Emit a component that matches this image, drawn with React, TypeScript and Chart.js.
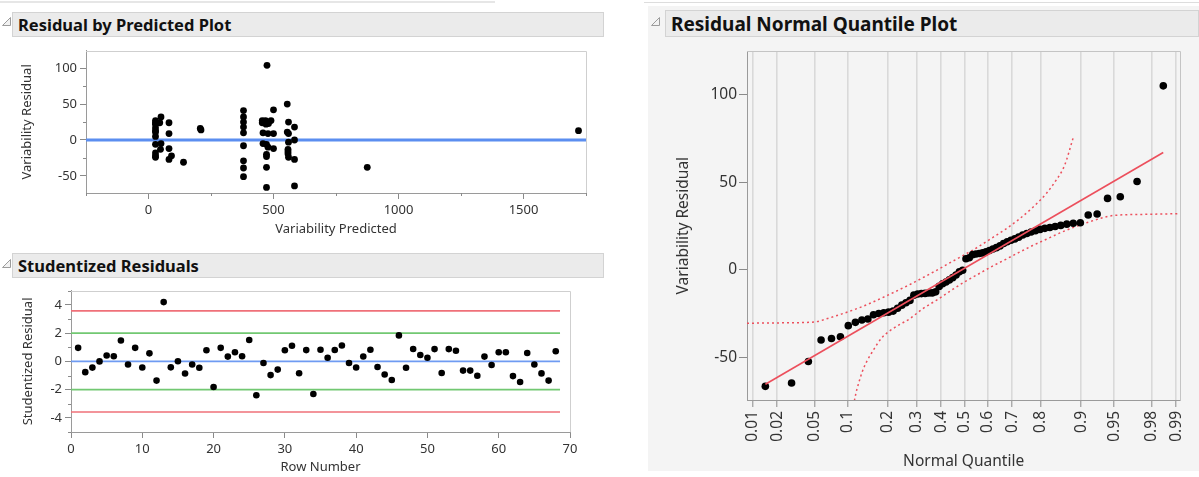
import React, { useEffect, useRef } from 'react';
import { Chart, registerables } from 'chart.js';

Chart.register(...registerables);

const FONT = '"Noto Sans", "Segoe UI", sans-serif';

// ---------------- Residual by Predicted Plot ----------------
const predicted = [
  28, 28, 28, 28, 28, 28, 28, 28, 28, 28, 28, 50, 45, 50, 48, 82, 82, 82, 92, 82, 140, 207,
  210, 380, 380, 380, 380, 380, 380, 380, 380, 380, 474, 500, 455, 468, 490, 455, 470, 480,
  465, 472, 458, 478, 500, 458, 472, 478, 500, 472, 472, 472, 472, 555, 560, 584, 555, 560,
  584, 560, 558, 558, 558, 560, 584, 584, 875, 1720,
];
const residual = [
  27, 24, 22, 17, 13, 11, 5, -6, -18, -22, -24, 32, 24, -5, -13, 24, 9, -12, -22, -27, -31, 16,
  14, 41, 32, 25, 18, 10, -8, -29, -39, -51, 104, 42, 27, 27, 27, 24, 22, 23,
  26, 25, 10, 9, 9, -5, -6, -10, -12, -20, -23, -38, -66, 50, 25, 18, 11, 9,
  0, -3, -13, -16, -19, -24, -27, -64, -38, 13,
];
const predictedTicks = [0, 500, 1000, 1500];
const predictedMinorTicks = [-250, 250, 750, 1250, 1750];
const residualTicks = [-50, 0, 50, 100];
const residualMinorTicks = [-25, 25, 75];

// ---------------- Studentized Residuals ----------------
const rowNumber = [
  1, 2, 3, 4, 5, 6, 7, 8, 9, 10, 11, 12, 13, 14, 15, 16, 17, 18, 19, 20, 21, 22, 23, 24, 25, 26,
  27, 28, 29, 30, 31, 32, 33, 34, 35, 36, 37, 38, 39, 40, 41, 42, 43, 44, 45, 46, 47, 48, 49, 50,
  51, 52, 53, 54, 55, 56, 57, 58, 59, 60, 61, 62, 63, 64, 65, 66, 67, 68,
];
const studentized = [
  0.96, -0.76, -0.44, 0.0, 0.42, 0.36, 1.48, -0.22, 0.96, -0.43, 0.57, -1.36, 4.2, -0.42, 0.01,
  -0.86, -0.22, -0.45, 0.79, -1.81, 0.96, 0.34, 0.65, 0.37, 1.52, -2.4, -0.11, -0.97, -0.58,
  0.79, 1.11, -0.84, 0.8, -2.31, 0.83, 0.26, 0.81, 1.13, -0.11, -0.43, 0.35, 0.83, -0.4, -0.93,
  -1.32, 1.84, -0.45, 0.88, 0.45, 0.26, 0.87, -0.82, 0.87, 0.75, -0.65, -0.65, -1.02, 0.34,
  -0.26, 0.65, 0.65, -1.04, -1.46, 0.6, -0.22, -0.85, -1.36, 0.72,
];
const rowTicks = [0, 10, 20, 30, 40, 50, 60, 70];
const studentizedTicks = [-4, -2, 0, 2, 4];
const studentizedMinorTicks = [-5, -3, -1, 1, 3, 5];
const outerLimit = 3.58;
const innerLimit = 2;
const limitEndRow = 68.6;

// ---------------- Residual Normal Quantile Plot ----------------
const sortedResidual = [
  -66.5, -64.6, -52.3, -40.1, -39.2, -38.2, -31.9, -30.0, -28.7, -28.1,
  -25.7, -25.0, -24.5, -24.2, -23.6, -22.0, -20.2, -18.8, -17.5, -14.5,
  -13.8, -13.6, -13.5, -13.3, -13.2, -12.6, -9.5, -8.0, -7.0, -5.8,
  -4.5, -3.0, -1.2, -0.3, 6.3, 6.8, 8.6, 9.0, 9.3, 9.6,
  10.2, 11.0, 11.8, 12.6, 13.6, 15.0, 16.0, 16.8, 17.6, 18.6,
  19.8, 20.7, 21.5, 22.2, 23.0, 23.6, 24.1, 24.7, 25.3, 26.0,
  26.5, 26.8, 31.2, 31.8, 40.7, 41.6, 50.3, 104.9,
];
const quantileTickProbs = [0.01, 0.02, 0.05, 0.1, 0.2, 0.3, 0.4, 0.5, 0.6, 0.7, 0.8, 0.9, 0.95, 0.98, 0.99];
const quantileTickLabels = ['0.01', '0.02', '0.05', '0.1', '0.2', '0.3', '0.4', '0.5', '0.6', '0.7', '0.8', '0.9', '0.95', '0.98', '0.99'];
const qqResidualTicks = [-50, 0, 50, 100];
const upperBandZ = [-2.385, -2.0, -1.645, -1.5, -1.35, -1.2, -1.05, -0.9, -0.75, -0.6, -0.45, -0.3, -0.15, 0, 0.15, 0.3, 0.45, 0.6, 0.75, 0.9, 1.0, 1.1, 1.195];
const upperBandY = [-30.5, -30.3, -29.8, -27.8, -25.3, -22.6, -19.5, -16.0, -12.3, -8.5, -4.4, -0.2, 4.2, 8.5, 13.0, 18.0, 23.0, 28.8, 35.5, 43.5, 50.5, 59.5, 75.3];
const lowerBandZ = [-1.24, -1.2, -1.15, -1.1, -1.0, -0.9, -0.75, -0.6, -0.45, -0.3, -0.15, 0, 0.15, 0.3, 0.45, 0.6, 0.75, 0.9, 1.05, 1.2, 1.35, 1.5, 1.645, 2.0, 2.37];
const lowerBandY = [-86, -73, -63, -55.5, -46, -38.5, -32.5, -28, -22, -17.2, -12, -7.0, -2.6, 1.8, 5.8, 9.9, 13.8, 17.4, 21.0, 24.2, 26.9, 29.4, 31.0, 31.6, 32.0];
const fitLineZ = [-2.183, 2.183];
const fitLineY = [-65.3, 66.9];

// inverse standard normal CDF (Acklam) – the transform of the normal quantile axis
function invNorm(p: number): number {
  const a = [-3.969683028665376e1, 2.209460984245205e2, -2.759285104469687e2, 1.38357751867269e2, -3.066479806614716e1, 2.506628277459239];
  const b = [-5.447609879822406e1, 1.615858368580409e2, -1.556989798598866e2, 6.680131188771972e1, -1.328068155288572e1];
  const c = [-7.784894002430293e-3, -3.223964580411365e-1, -2.400758277161838, -2.549732539343734, 4.374664141464968, 2.938163982698783];
  const d = [7.784695709041462e-3, 3.224671290700398e-1, 2.445134137142996, 3.754408661907416];
  const pl = 0.02425;
  if (p < pl) {
    const q = Math.sqrt(-2 * Math.log(p));
    return (((((c[0] * q + c[1]) * q + c[2]) * q + c[3]) * q + c[4]) * q + c[5]) / ((((d[0] * q + d[1]) * q + d[2]) * q + d[3]) * q + 1);
  }
  if (p <= 1 - pl) {
    const q = p - 0.5;
    const r = q * q;
    return ((((((a[0] * r + a[1]) * r + a[2]) * r + a[3]) * r + a[4]) * r + a[5]) * q) / (((((b[0] * r + b[1]) * r + b[2]) * r + b[3]) * r + b[4]) * r + 1);
  }
  const q = Math.sqrt(-2 * Math.log(1 - p));
  return -(((((c[0] * q + c[1]) * q + c[2]) * q + c[3]) * q + c[4]) * q + c[5]) / ((((d[0] * q + d[1]) * q + d[2]) * q + d[3]) * q + 1);
}

// ---------------- plugins ----------------
const framePlugin = {
  id: 'frame',
  beforeDatasetsDraw(chart: any, _a: any, opts: any) {
    const { ctx, chartArea: a } = chart;
    ctx.save();
    ctx.strokeStyle = opts.color || '#cccccc';
    ctx.lineWidth = 1;
    ctx.beginPath();
    ctx.moveTo(a.left, Math.round(a.top) + 0.5);
    ctx.lineTo(Math.round(a.right) + 0.5, Math.round(a.top) + 0.5);
    ctx.lineTo(Math.round(a.right) + 0.5, a.bottom);
    ctx.stroke();
    ctx.restore();
  },
};

const refLinesPlugin = {
  id: 'refLines',
  beforeDatasetsDraw(chart: any, _a: any, opts: any) {
    const { ctx, chartArea: a, scales } = chart;
    const lines = opts.lines || [];
    ctx.save();
    ctx.beginPath();
    ctx.rect(a.left, a.top, a.right - a.left, a.bottom - a.top);
    ctx.clip();
    for (let i = 0; i < lines.length; i++) {
      const l = lines[i];
      const py = scales.y.getPixelForValue(l.y);
      const x0 = l.x0 !== undefined ? scales.x.getPixelForValue(l.x0) : a.left;
      const x1 = l.x1 !== undefined ? scales.x.getPixelForValue(l.x1) : a.right;
      ctx.strokeStyle = l.color;
      ctx.lineWidth = l.width;
      ctx.beginPath();
      ctx.moveTo(x0, py);
      ctx.lineTo(x1, py);
      ctx.stroke();
    }
    ctx.restore();
  },
};

const minorTicksPlugin = {
  id: 'minorTicks',
  afterDraw(chart: any, _a: any, opts: any) {
    const { ctx, chartArea: a, scales } = chart;
    const len = opts.len || 3;
    ctx.save();
    ctx.strokeStyle = opts.color || '#8a8a8a';
    ctx.lineWidth = 1;
    ctx.beginPath();
    (opts.y || []).forEach((v: number) => {
      const py = Math.round(scales.y.getPixelForValue(v)) + 0.5;
      ctx.moveTo(a.left - len, py);
      ctx.lineTo(a.left, py);
    });
    (opts.x || []).forEach((v: number) => {
      const px = Math.round(scales.x.getPixelForValue(v)) + 0.5;
      ctx.moveTo(px, a.bottom);
      ctx.lineTo(px, a.bottom + len);
    });
    ctx.stroke();
    ctx.restore();
  },
};

const TEXT = '#333333';
const AXIS = '#9a9a9a';
const TICK = '#8a8a8a';

function valueScale(o: any) {
  return {
    type: 'linear',
    min: o.min,
    max: o.max,
    afterBuildTicks: (s: any) => {
      s.ticks = o.ticks.map((v: number) => ({ value: v }));
    },
    afterFit: (s: any) => {
      if (o.horizontal) s.height = o.size;
      else s.width = o.size;
    },
    ticks: {
      autoSkip: false,
      font: { family: FONT, size: o.font },
      color: TEXT,
      padding: o.tickPad,
      minRotation: o.rotation || 0,
      maxRotation: o.rotation || 0,
      callback: o.labels ? (_v: any, i: number) => o.labels[i] : (v: any) => String(v),
    },
    grid: {
      drawOnChartArea: !!o.grid,
      drawTicks: true,
      tickLength: o.tickLen,
      tickColor: TICK,
      tickWidth: 1,
      color: o.gridColor || '#dddddd',
      lineWidth: o.gridWidth || 1,
    },
    border: { display: true, color: AXIS, width: 1 },
    title: {
      display: true,
      text: o.title,
      font: { family: FONT, size: o.titleFont },
      color: TEXT,
      padding: o.titlePad,
    },
  };
}

const baseOptions = (padding: any) => ({
  animation: false,
  responsive: false,
  events: [],
  layout: { padding },
});

function residualConfig() {
  return {
    type: 'scatter',
    data: {
      datasets: [
        {
          data: predicted.map((x, i) => ({ x, y: residual[i] })),
          pointRadius: 3.4,
          pointBackgroundColor: '#000',
          pointBorderWidth: 0,
        },
      ],
    },
    options: {
      ...baseOptions({ top: 9, right: 14, left: 0, bottom: 0 }),
      plugins: {
        legend: { display: false },
        tooltip: { enabled: false },
        frame: { color: '#cfcfcf' },
        refLines: { lines: [{ y: 0, color: '#5b8ef0', width: 2.8 }] },
        minorTicks: { x: predictedMinorTicks, y: residualMinorTicks, len: 3 },
      },
      scales: {
        x: valueScale({ min: -250, max: 1750, ticks: predictedTicks, horizontal: true, size: 52, font: 13, tickPad: 3, tickLen: 6, title: 'Variability Predicted', titleFont: 13, titlePad: { top: 0, bottom: 8 } }),
        y: valueScale({ min: -73.8, max: 124.2, ticks: residualTicks, horizontal: false, size: 86, font: 13, tickPad: 3, tickLen: 6, title: 'Variability Residual', titleFont: 13, titlePad: { top: 19, bottom: 0 } }),
      },
    },
    plugins: [framePlugin, refLinesPlugin, minorTicksPlugin],
  };
}

function studentizedConfig() {
  return {
    type: 'scatter',
    data: {
      datasets: [
        {
          data: rowNumber.map((x, i) => ({ x, y: studentized[i] })),
          pointRadius: 3.3,
          pointBackgroundColor: '#000',
          pointBorderWidth: 0,
        },
      ],
    },
    options: {
      ...baseOptions({ top: 9, right: 30, left: 0, bottom: 0 }),
      plugins: {
        legend: { display: false },
        tooltip: { enabled: false },
        frame: { color: '#cfcfcf' },
        refLines: {
          lines: [
            { y: outerLimit, x0: 0, x1: limitEndRow, color: '#ef7079', width: 1.6 },
            { y: -outerLimit, x0: 0, x1: limitEndRow, color: '#ef7079', width: 1.6 },
            { y: innerLimit, x0: 0, x1: limitEndRow, color: '#72c872', width: 1.6 },
            { y: -innerLimit, x0: 0, x1: limitEndRow, color: '#72c872', width: 1.6 },
            { y: 0, x0: 0, x1: limitEndRow, color: '#6f9bf2', width: 1.6 },
          ],
        },
        minorTicks: { y: studentizedMinorTicks, len: 3 },
      },
      scales: {
        x: valueScale({ min: 0, max: 70, ticks: rowTicks, horizontal: true, size: 45, font: 13, tickPad: 3, tickLen: 6, title: 'Row Number', titleFont: 13, titlePad: { top: 0, bottom: 2 } }),
        y: valueScale({ min: -5, max: 5, ticks: studentizedTicks, horizontal: false, size: 71, font: 13, tickPad: 3, tickLen: 6, title: 'Studentized Residual', titleFont: 13, titlePad: { top: 20, bottom: 0 } }),
      },
    },
    plugins: [framePlugin, refLinesPlugin, minorTicksPlugin],
  };
}

function quantileConfig() {
  const n = sortedResidual.length;
  const red = '#ec4f5c';
  return {
    type: 'scatter',
    data: {
      datasets: [
        {
          data: fitLineZ.map((x, i) => ({ x, y: fitLineY[i] })),
          showLine: true,
          pointRadius: 0,
          borderColor: red,
          borderWidth: 1.6,
          order: 1,
        },
        {
          data: sortedResidual.map((y, i) => ({ x: invNorm((i + 1) / (n + 1)), y })),
          pointRadius: 3.8,
          pointBackgroundColor: '#000',
          pointBorderWidth: 0,
          order: 2,
        },
        {
          data: upperBandZ.map((x, i) => ({ x, y: upperBandY[i] })),
          showLine: true,
          pointRadius: 0,
          borderColor: red,
          borderWidth: 1.5,
          borderDash: [2, 3],
          cubicInterpolationMode: 'monotone',
          order: 3,
        },
        {
          data: lowerBandZ.map((x, i) => ({ x, y: lowerBandY[i] })),
          showLine: true,
          pointRadius: 0,
          borderColor: red,
          borderWidth: 1.5,
          borderDash: [2, 3],
          cubicInterpolationMode: 'monotone',
          order: 3,
        },
      ],
    },
    options: {
      ...baseOptions({ top: 10, right: 12, left: 0, bottom: 0 }),
      plugins: {
        legend: { display: false },
        tooltip: { enabled: false },
        frame: { color: '#c4c4c4' },
      },
      scales: {
        x: {
          ...valueScale({ min: -2.385, max: 2.37, ticks: [], labels: quantileTickLabels, horizontal: true, size: 77, font: 15.5, tickPad: 4, tickLen: 7, rotation: 90, grid: true, gridColor: '#d9d9d9', gridWidth: 1.6, title: 'Normal Quantile', titleFont: 15.5, titlePad: { top: 0, bottom: 6 } }),
          afterBuildTicks: (s: any) => {
            s.ticks = quantileTickProbs.map((p) => ({ value: invNorm(p) }));
          },
        },
        y: valueScale({ min: -74.3, max: 124.6, ticks: qqResidualTicks, horizontal: false, size: 99, font: 15.5, tickPad: 2, tickLen: 8, title: 'Variability Residual', titleFont: 15.5, titlePad: { top: 26, bottom: 0 } }),
      },
    },
    plugins: [framePlugin],
  };
}

function ChartCanvas({ left, top, width, height, make }: any) {
  const ref = useRef<HTMLCanvasElement | null>(null);
  useEffect(() => {
    if (!ref.current) return;
    const chart = new Chart(ref.current, make() as any);
    return () => chart.destroy();
  }, []);
  return (
    <div style={{ position: 'absolute', left, top, width, height }}>
      <canvas ref={ref} width={width} height={height} style={{ width, height, display: 'block' }} />
    </div>
  );
}

function Header({ left, top, width, height, text, size }: any) {
  return (
    <div
      style={{
        position: 'absolute',
        left,
        top,
        width,
        height,
        boxSizing: 'border-box',
        background: '#ebebeb',
        border: '1px solid #d3d3d3',
        display: 'flex',
        alignItems: 'center',
        paddingLeft: 5,
        fontFamily: FONT,
        fontWeight: 700,
        fontSize: size,
        color: '#111',
        whiteSpace: 'nowrap',
        overflow: 'hidden',
      }}
    >
      {text}
    </div>
  );
}

function Triangle({ left, top }: any) {
  return (
    <svg style={{ position: 'absolute', left, top }} width={11} height={11}>
      <polygon points="9.5,1.5 9.5,9.5 1.5,9.5" fill="#f2f2f2" stroke="#9c9c9c" strokeWidth={1} />
    </svg>
  );
}

export default function App() {
  return (
    <div style={{ position: 'fixed', left: 0, top: 0, width: 1199, height: 477, background: '#ffffff', overflow: 'hidden' }}>
      <div style={{ position: 'absolute', left: 0, top: 1, width: 495, height: 2, background: '#e6e6e6' }} />
      <div style={{ position: 'absolute', left: 644, top: 2, width: 555, height: 1, background: '#dddddd' }} />
      <div style={{ position: 'absolute', left: 648, top: 6, width: 551, height: 465, background: '#f4f4f4' }} />

      <Triangle left={1} top={16} />
      <Header left={12} top={12} width={592} height={25} text="Residual by Predicted Plot" size={16.5} />
      <ChartCanvas left={0} top={40} width={600} height={205} make={residualConfig} />

      <Triangle left={1} top={258} />
      <Header left={12} top={253} width={592} height={25} text="Studentized Residuals" size={16.5} />
      <ChartCanvas left={0} top={280} width={600} height={197} make={studentizedConfig} />

      <Triangle left={650} top={16} />
      <Header left={665} top={10} width={534} height={27} text="Residual Normal Quantile Plot" size={19} />
      <ChartCanvas left={648} top={40} width={551} height={437} make={quantileConfig} />
    </div>
  );
}
